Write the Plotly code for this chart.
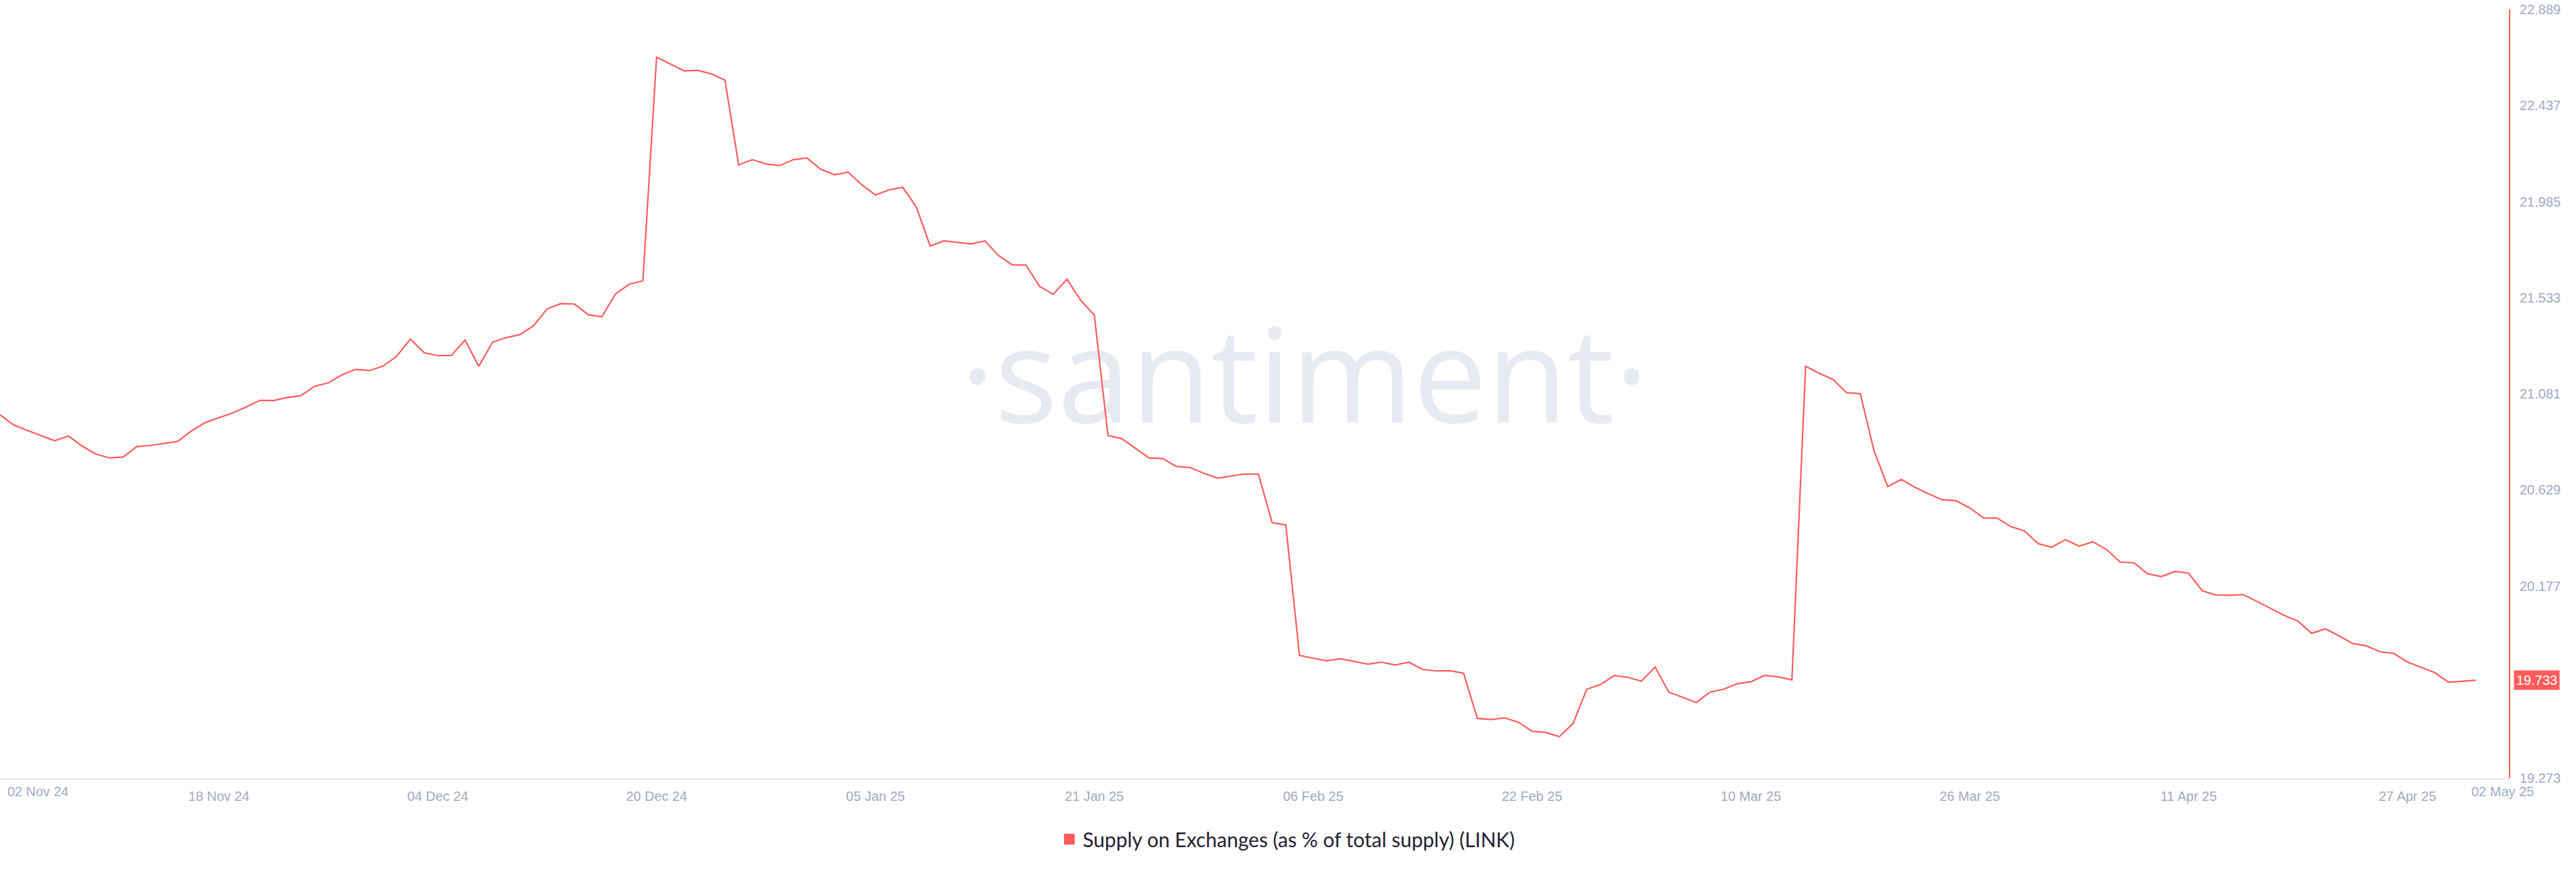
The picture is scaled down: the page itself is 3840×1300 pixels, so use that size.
import pandas as pd
import plotly.graph_objects as go

# ---- data: daily Supply on Exchanges (% of total supply), LINK ----
start_date = "2024-11-02"
nov_values = [20.982, 20.934, 20.908, 20.884, 20.860, 20.882, 20.835, 20.798, 20.779, 20.783,
              20.832, 20.838, 20.848, 20.857, 20.906, 20.945, 20.968, 20.990, 21.019, 21.050,
              21.049, 21.063, 21.072, 21.116, 21.132, 21.170, 21.196, 21.190, 21.211]
dec_values = [21.257, 21.338, 21.274, 21.260, 21.261, 21.334, 21.210, 21.323, 21.345, 21.359,
              21.401, 21.480, 21.505, 21.503, 21.453, 21.443, 21.551, 21.596, 21.612, 22.664,
              22.631, 22.600, 22.602, 22.586, 22.556, 22.158, 22.182, 22.162, 22.154, 22.182,
              22.190]
jan_values = [22.137, 22.111, 22.123, 22.064, 22.016, 22.040, 22.052, 21.958, 21.776, 21.800,
              21.793, 21.786, 21.800, 21.731, 21.687, 21.686, 21.586, 21.549, 21.620, 21.521,
              21.451, 20.884, 20.870, 20.824, 20.779, 20.776, 20.739, 20.734, 20.707, 20.684,
              20.693]
feb_values = [20.704, 20.703, 20.474, 20.464, 19.850, 19.837, 19.825, 19.834, 19.822, 19.809,
              19.818, 19.805, 19.818, 19.784, 19.777, 19.778, 19.766, 19.554, 19.549, 19.556,
              19.536, 19.493, 19.488, 19.468, 19.530, 19.691, 19.713, 19.755]
mar_values = [19.747, 19.729, 19.795, 19.677, 19.653, 19.628, 19.677, 19.691, 19.717, 19.726,
              19.756, 19.749, 19.735, 21.210, 21.177, 21.148, 21.086, 21.081, 20.813, 20.644,
              20.678, 20.641, 20.610, 20.582, 20.578, 20.544, 20.497, 20.496, 20.456, 20.436,
              20.376]
apr_values = [20.359, 20.395, 20.364, 20.385, 20.348, 20.289, 20.286, 20.234, 20.221, 20.245,
              20.237, 20.154, 20.134, 20.133, 20.136, 20.104, 20.071, 20.038, 20.011, 19.954,
              19.975, 19.942, 19.906, 19.895, 19.867, 19.860, 19.819, 19.794, 19.769, 19.724]
may_values = [19.728, 19.733]

x_tick_dates = ["2024-11-18", "2024-12-04", "2024-12-20", "2025-01-05", "2025-01-21",
                "2025-02-06", "2025-02-22", "2025-03-10", "2025-03-26", "2025-04-11",
                "2025-04-27"]
x_tick_labels = ["18 Nov 24", "04 Dec 24", "20 Dec 24", "05 Jan 25", "21 Jan 25",
                 "06 Feb 25", "22 Feb 25", "10 Mar 25", "26 Mar 25", "11 Apr 25",
                 "27 Apr 25"]
first_label, last_label = "02 Nov 24", "02 May 25"
y_tick_vals = [19.273, 20.177, 20.629, 21.081, 21.533, 21.985, 22.437, 22.889]
y_tick_labels = ["19.273", "20.177", "20.629", "21.081", "21.533", "21.985", "22.437", "22.889"]
series_name = "Supply on Exchanges (as % of total supply) (LINK)"

values = nov_values + dec_values + jan_values + feb_values + mar_values + apr_values + may_values
dates = pd.date_range(start_date, periods=len(values), freq="D")

# ---- style ----
RED = "#FF5B5B"
CASPER = "#9FAAC4"
WM = "#E7EAF3"
TICKFONT = "Liberation Sans, Arial, sans-serif"

x_range = [pd.Timestamp("2024-11-02"), pd.Timestamp("2025-05-04 10:00")]
y_range = [19.273, 22.889]

wm_x = x_range[0] + (x_range[1] - x_range[0]) * 0.52
wm_y = y_range[0] + (y_range[1] - y_range[0]) * 0.505

fig = go.Figure()
fig.add_trace(go.Scatter(
    x=[wm_x], y=[wm_y], mode="text", text=["·santiment·"],
    textposition="middle center",
    textfont=dict(family="Open Sans", size=196, color=WM),
    hoverinfo="skip", showlegend=False, cliponaxis=False))
fig.add_trace(go.Scatter(
    x=dates, y=values, mode="lines", name=series_name,
    line=dict(color=RED, width=2.2), showlegend=False))
fig.add_trace(go.Scatter(
    x=[None], y=[None], mode="markers", name=series_name,
    marker=dict(symbol="square", size=17, color=RED), showlegend=True))

fig.update_layout(
    width=3840, height=1300, autosize=False,
    margin=dict(l=0, r=100, t=14, b=140),
    plot_bgcolor="white", paper_bgcolor="white",
    xaxis=dict(type="date", range=x_range, tickvals=x_tick_dates, ticktext=x_tick_labels,
               showgrid=False, zeroline=False, showline=True, linecolor=WM, linewidth=2,
               ticks="", ticklabelstandoff=8,
               tickfont=dict(family=TICKFONT, size=20, color=CASPER)),
    yaxis=dict(side="right", range=y_range, tickvals=y_tick_vals, ticktext=y_tick_labels,
               showgrid=False, zeroline=False, showline=True, linecolor=RED, linewidth=2,
               ticks="", ticklabelstandoff=10,
               tickfont=dict(family=TICKFONT, size=20, color=CASPER)),
    legend=dict(orientation="h", x=0.513, xanchor="center", y=-0.0794, yanchor="middle",
                font=dict(family="Lato, sans-serif", size=30, color="#1f2233"),
                bgcolor="rgba(0,0,0,0)"),
    showlegend=True,
)

# first / last x labels (anchored to stay inside the canvas)
fig.add_annotation(x=dates[0], y=0, yref="paper", text=first_label, showarrow=False,
                   xanchor="left", yanchor="middle", xshift=9, yshift=-20,
                   font=dict(family=TICKFONT, size=20, color=CASPER))
fig.add_annotation(x=dates[-1], y=0, yref="paper", text=last_label, showarrow=False,
                   xanchor="center", yanchor="middle", xshift=40, yshift=-20,
                   font=dict(family=TICKFONT, size=20, color=CASPER))
# last value badge on the right axis
fig.add_annotation(x=1, xref="paper", y=values[-1], text=f"{values[-1]:.3f}", showarrow=False,
                   xanchor="left", yanchor="middle", xshift=7,
                   bgcolor=RED, borderpad=3,
                   font=dict(family=TICKFONT, size=20, color="white"))

fig.write_html("out.html", config={"displayModeBar": False},
               post_script="document.body.style.margin='0px';")
